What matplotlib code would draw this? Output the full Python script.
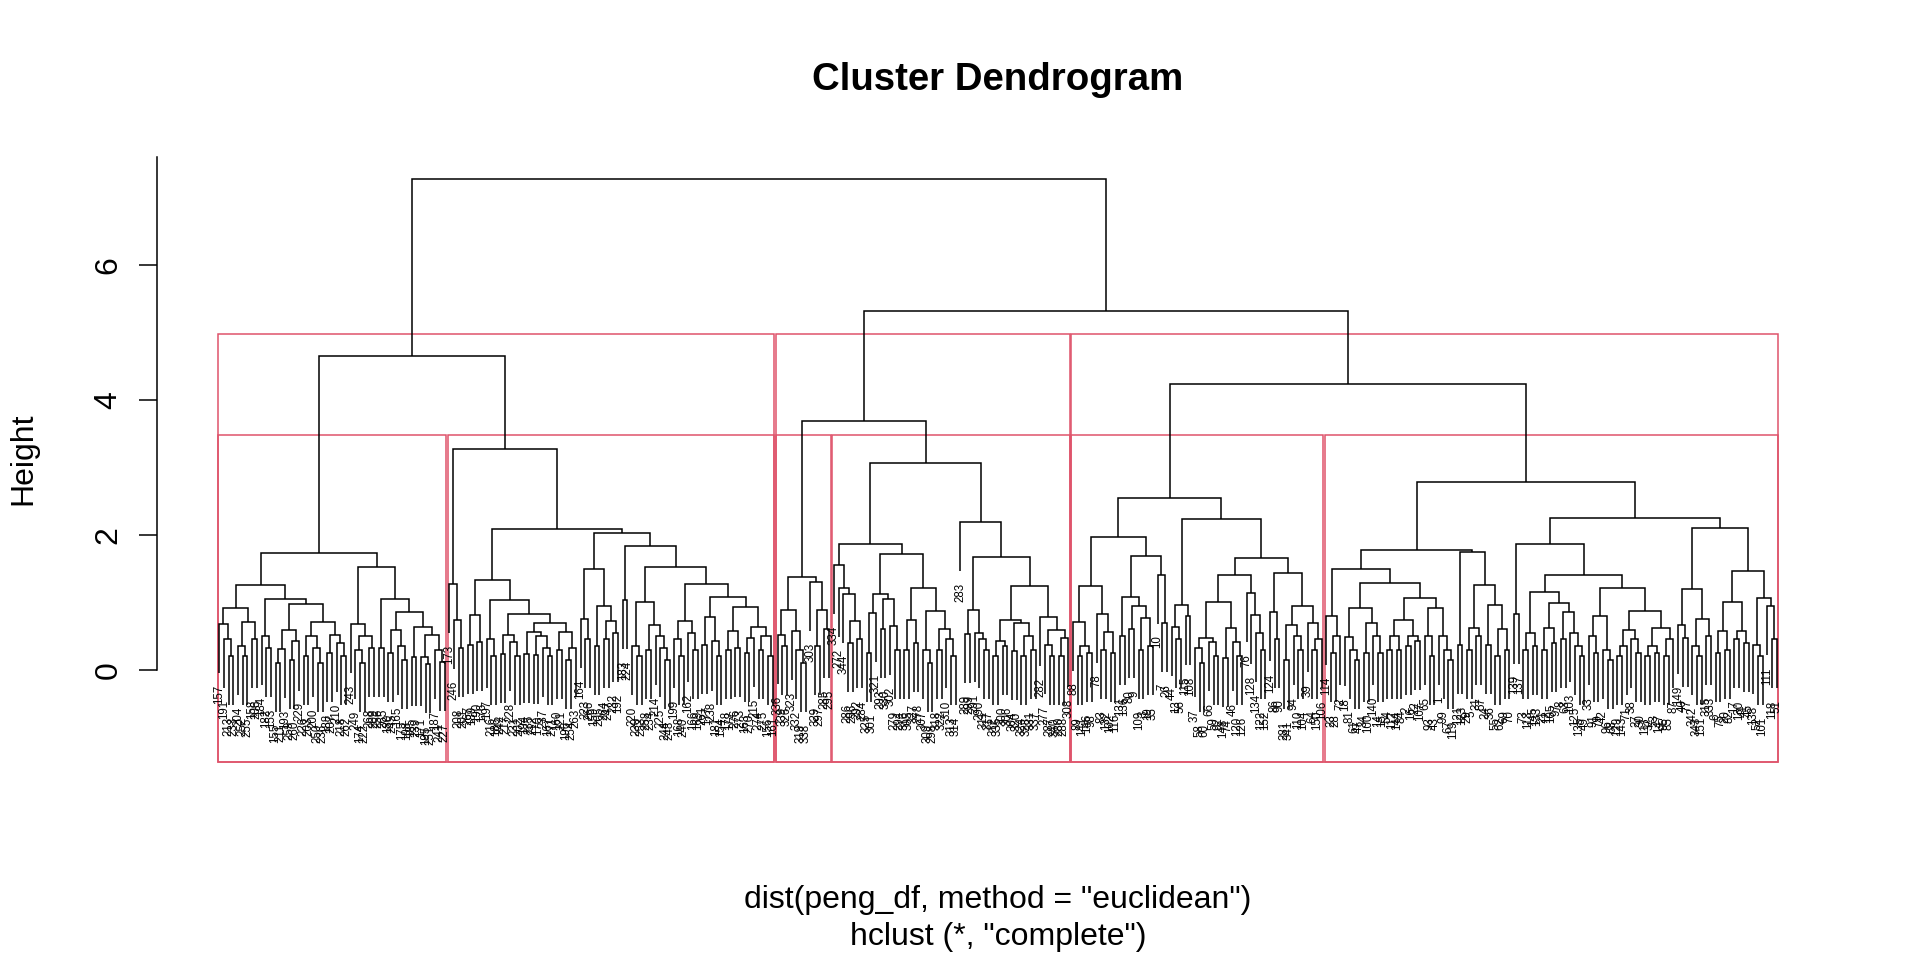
import matplotlib
matplotlib.use("Agg")
import matplotlib.pyplot as plt
from matplotlib.collections import LineCollection
from matplotlib.patches import Rectangle

plt.rcParams['font.family'] = ['Liberation Sans', 'DejaVu Sans']

# complete-linkage merge tree: [height, left, right], leaves are row ids
c1 = [1.73,
      [1.25,
       [0.92,
        [0.68, 157, [0.45, 191, [0.21, 213, 233]]],
        [0.71, [0.35, 204, [0.2, 252, 255]], [0.46, 158, 206]]],
       [1.05,
        [0.5, 184, [0.33, 182, 153]],
        [0.98,
         [0.59, [0.31, [0.1, 155, 211], 193], [0.42, [0.15, 259, 260], 229]],
         [0.71,
          [0.5, [0.2, 226, 203], [0.33, 200, [0.1, 250, 236]]],
          [0.52, [0.25, 188, 207], [0.4, 210, [0.2, 218, 262]]]]]]],
      [1.52,
       [0.68, 243, [0.5, [0.3, 249, [0.1, 174, 222]], [0.33, 268, 209]]],
       [1.05,
        [0.32, 256, 265],
        [0.85,
         [0.59, [0.25, 180, 245], [0.35, 165, [0.15, 175, 198]]],
         [0.63, [0.19, 185, 239],
          [0.52, [0.19, 171, [0.08, 195, 251]], [0.3, 187, [0.12, 241, 227]]]]]]]]

c2 = [3.27,
      [1.27, 173, [0.74, 246, [0.32, 208, 201]]],
      [2.09,
       [1.33,
        [0.81, [0.37, 267, 189], [0.41, 190, 176]],
        [1.04,
         [0.45, 197, [0.2, 216, 186]],
         [0.83,
          [0.52, [0.23, 242, 217], [0.41, 228, [0.2, 231, 202]]],
          [0.69,
           [0.56, [0.23, 194, 235], [0.5, [0.22, 212, 170], [0.33, 237, [0.2, 167, 271]]]],
           [0.56, [0.3, 160, 221], [0.33, [0.15, 196, 254], 263]]]]]],
       [2.02,
        [1.49,
         [0.75, 164, [0.45, 223, 266]],
         [0.95, [0.36, 159, 205], [0.73, [0.45, 264, 247], [0.55, 232, 192]]]],
        [1.84,
         [1.03, 183, 224],
         [1.53,
          [1.01, [0.36, 220, [0.2, 230, 253]],
           [0.67, [0.3, 258, 234], [0.5, 214, [0.32, 225, [0.15, 244, 248]]]]],
          [1.27,
           [0.72, [0.46, 199, [0.2, 168, 240]], [0.54, 162, [0.3, 166, 169]]],
           [1.08,
            [0.78, [0.37, 261, 177], [0.42, 238, [0.2, 181, 154]]],
            [0.93,
             [0.58, [0.3, 178, 172], [0.33, 276, 273]],
             [0.64, [0.47, [0.25, 163, 270], 215],
              [0.5, [0.3, 274, 275], [0.2, 156, 161]]]]]]]]]]]

c3 = [1.38,
      [0.88, [0.52, 336, [0.35, 339, 326]], [0.57, 323, [0.3, 332, [0.1, 319, 338]]]],
      [1.3, 303, [0.88, [0.35, 329, 297], [0.6, 285, 295]]]]

c4 = [3.07,
      [1.86,
       [1.56, 334, [1.21, 272, [1.13, 344, [0.72, [0.4, 286, 296], [0.45, 292, 284]]]]],
       [1.71,
        [1.13, [0.84, [0.25, 325, 301], 321], [1.05, [0.6, 293, 330], [0.65, 302, [0.3, 279, 294]]]],
        [1.21, [0.74, [0.3, 316, 305], [0.4, 327, 278]],
         [0.87, [0.3, 307, [0.1, 309, 298]], [0.6, [0.3, 318, 322], [0.45, 310, [0.2, 313, 314]]]]]]],
      [2.19, 283,
       [1.67,
        [0.89, [0.53, 289, 299], [0.54, 291, [0.45, 290, [0.3, 311, 317]]]],
        [1.24,
         [0.74, [0.43, [0.2, 312, 335], [0.35, 300, 306]],
          [0.69, [0.28, 304, 320], [0.5, [0.2, 324, 328], [0.3, 331, 337]]]],
         [0.78, 282, [0.59, [0.37, 277, [0.2, 287, 340]], [0.47, [0.2, 280, 288], 308]]]]]]]

c5 = [2.55,
      [1.97,
       [1.24, [0.71, 88, [0.35, [0.2, 89, 141], [0.25, 146, 98]]],
        [0.83, 78, [0.56, [0.3, 83, 132], [0.25, 102, 116]]]],
       [1.68,
        [1.08, [0.5, 131, 136], [0.94, [0.6, 80, 9], [0.77, [0.3, 109, 3], [0.35, 19, 35]]]],
        [1.41, 10, [0.69, 7, 26]]]],
      [2.24,
       [0.96, [0.64, 44, [0.45, 13, 56]], [0.8, 115, 108]],
       [1.66,
        [1.41,
         [1.0, [0.47, [0.32, 37, [0.1, 58, 60]], [0.41, 66, [0.2, 59, 92]]],
          [0.62, [0.17, 148, 74], [0.41, 46, [0.2, 120, 126]]]],
         [1.14, 76, [0.81, 128, [0.55, 134, [0.3, 122, 152]]]]],
        [1.44,
         [0.85, 124, [0.46, 86, 90]],
         [0.94, [0.67, [0.15, 281, 341], [0.5, 94, [0.3, 110, 104]]],
          [0.69, 39, [0.45, [0.3, 64, 150], 106]]]]]]]

c6 = [2.78,
      [1.77,
       [1.49,
        [0.8, 114, [0.5, [0.25, 23, 28], 72]],
        [1.29,
         [0.92, [0.48, 18, [0.3, 81, [0.15, 61, 47]]], [0.69, [0.25, 34, 100], [0.5, 140, [0.25, 14, 15]]]],
         [1.06,
          [0.74, [0.5, [0.3, 54, 112], [0.3, 144, 84]], [0.5, [0.35, 2, 16], [0.43, 22, 107]]],
          [0.92, [0.5, 65, [0.2, 93, 43]], [0.5, 1, [0.3, 99, [0.15, 67, 119]]]]]]],
       [1.75,
        [0.37, 121, 123],
        [1.26, [0.62, [0.3, 29, 5], [0.5, 31, 57]],
         [0.96, [0.37, 24, 36], [0.61, [0.2, 55, 62], [0.3, 69, 70]]]]]],
      [2.25,
       [1.86,
        [0.82, 139, 137],
        [1.41,
         [1.16, [0.54, [0.3, 73, 113], [0.35, 145, 133]],
          [0.99, [0.62, [0.3, 21, 12], [0.4, 105, 97]],
           [0.85, [0.45, 8, 63], [0.55, 103, [0.35, 125, [0.2, 135, 49]]]]]],
         [1.21, [0.79, [0.5, 33, [0.25, 91, 79]], [0.3, 42, [0.15, 96, 68]]],
          [0.87, [0.59, [0.35, [0.2, 129, 143], 71], [0.45, 38, [0.25, 27, 30]]],
           [0.62, [0.35, [0.2, 117, 32], [0.25, 53, 147]], [0.45, [0.2, 95, 85], 87]]]]]],
       [2.1,
        [1.19, [0.67, 149, [0.47, 40, 77]], [0.75, [0.35, 342, [0.2, 343, 151]], [0.5, 315, 333]]],
        [1.46,
         [1.0, [0.58, [0.25, 6, 75], [0.3, 20, 82]], [0.58, [0.45, 17, 130], [0.4, 41, 45]]],
         [1.06, [0.37, 138, [0.2, 52, 101]], [0.94, 111, [0.45, 118, 51]]]]]]]

tree = [7.27, [4.65, c1, c2], [5.31, [3.69, c3, c4], [4.24, c5, c6]]]
cuts = [3, 6]

hang = 0.1 * tree[0]
order = []
paths = []
tips = []


def place(node):
    if not isinstance(node, list):
        order.append(node)
        return len(order), None
    h, a, b = node
    xa, ya = place(a)
    xb, yb = place(b)
    if ya is None:
        ya = h - hang
        tips.append((xa, ya, a))
    if yb is None:
        yb = h - hang
        tips.append((xb, yb, b))
    paths.append([(xa, ya), (xa, h), (xb, h), (xb, yb)])
    return (xa + xb) / 2, h


def count(node):
    if not isinstance(node, list):
        return 1
    return count(node[1]) + count(node[2])


def heights(node):
    if not isinstance(node, list):
        return []
    return [node[0]] + heights(node[1]) + heights(node[2])


place(tree)
n = len(order)

fig = plt.figure(figsize=(19.2, 9.6), dpi=100)
ax = fig.add_axes([0.0818, 0.2067, 0.8760, 0.6298])
ax.set_xlim(1 - 0.04 * (n - 1), n + 0.04 * (n - 1))
ax.set_ylim(-1.36, 7.60)

ax.add_collection(LineCollection(paths, colors='black', linewidths=1.1,
                                 capstyle='butt', joinstyle='miter'))
for x, y, lab in tips:
    ax.annotate(str(lab), (x, y), xytext=(0, -8.5), textcoords='offset points',
                rotation=90, ha='center', va='top', fontsize=8.3)

# rect.hclust boxes for k = 3 and k = 6
hs = sorted(heights(tree), reverse=True)
y0 = ax.get_ylim()[0]
for k in cuts:
    groups = [tree]
    while len(groups) < k:
        i = max(range(len(groups)),
                key=lambda j: groups[j][0] if isinstance(groups[j], list) else -1)
        g = groups[i]
        groups[i:i + 1] = [g[1], g[2]]
    top = (hs[k - 2] + hs[k - 1]) / 2
    m = 0
    for g in groups:
        size = count(g)
        ax.add_patch(Rectangle((m + 0.66, y0), size - 0.33, top - y0, fill=False,
                               edgecolor='#DF536B', lw=1.1, clip_on=False))
        m += size

for s in ['top', 'right', 'bottom']:
    ax.spines[s].set_visible(False)
ax.spines['left'].set_bounds(0, 7.6)
ax.spines['left'].set_linewidth(1.1)
ax.set_xticks([])
ax.set_yticks([0, 2, 4, 6])
ax.tick_params(axis='y', length=13.3, width=1.1, labelsize=23, pad=11, labelrotation=90)
for t in ax.get_yticklabels():
    t.set_va('center')

fig.text(0.5198, 1 - 80 / 960, 'Cluster Dendrogram', ha='center', va='center',
         fontsize=27.6, fontweight='bold')
fig.text(0.5198, 1 - 900 / 960, 'dist(peng_df, method = "euclidean")',
         ha='center', va='center', fontsize=23)
fig.text(0.5198, 1 - 937 / 960, 'hclust (*, "complete")',
         ha='center', va='center', fontsize=23)
fig.text(23 / 1920, 1 - 459 / 960, 'Height', rotation=90, ha='center', va='center',
         fontsize=23)

fig.savefig('out.png', dpi=100)
